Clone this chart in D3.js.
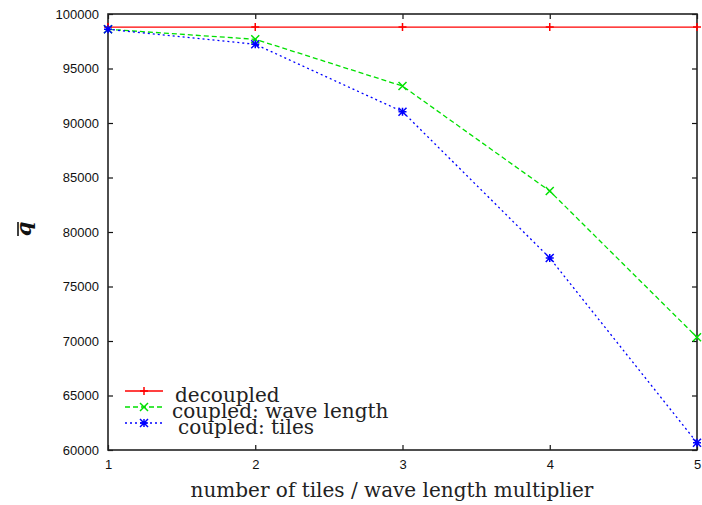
<!DOCTYPE html>
<html>
<head>
<meta charset="utf-8">
<script src="https://cdn.jsdelivr.net/npm/d3@7"></script>
<style>
  body { margin: 0; background: #fff; }
</style>
</head>
<body>
<script>
// data
var multipliers = [1, 2, 3, 4, 5];
var decoupled = [98800, 98800, 98800, 98800, 98800];
var coupledWave = [98600, 97680, 93390, 83760, 70340];
var coupledTiles = [98600, 97220, 91040, 77620, 60670];
var yTicks = [60000, 65000, 70000, 75000, 80000, 85000, 90000, 95000, 100000];
var seriesNames = ["decoupled", "coupled: wave length", "coupled: tiles"];

var w = 702, h = 505;
var plotL = 108, plotR = 697, plotT = 14, plotB = 450;

var svg = d3.select("body").append("svg")
    .attr("width", w)
    .attr("height", h);

var x = d3.scaleLinear().domain([1, 5]).range([plotL, plotR]);
var y = d3.scaleLinear().domain([60000, 100000]).range([plotB, plotT]);

//axes - gnuplot style, ticks inside and mirrored
var tickLen = 5;
var xAxisB = svg.append("g")
    .attr("transform", "translate(0," + plotB + ")")
    .call(d3.axisBottom(x).tickValues(multipliers).tickFormat(d3.format("d")).tickSizeInner(-tickLen).tickSizeOuter(0).tickPadding(10));
var xAxisT = svg.append("g")
    .attr("transform", "translate(0," + plotT + ")")
    .call(d3.axisTop(x).tickValues(multipliers).tickFormat("").tickSizeInner(-tickLen).tickSizeOuter(0));
var yAxisL = svg.append("g")
    .attr("transform", "translate(" + plotL + ",0)")
    .call(d3.axisLeft(y).tickValues(yTicks).tickFormat(d3.format("d")).tickSizeInner(-tickLen).tickSizeOuter(0).tickPadding(10));
var yAxisR = svg.append("g")
    .attr("transform", "translate(" + plotR + ",0)")
    .call(d3.axisRight(y).tickValues(yTicks).tickFormat("").tickSizeInner(-tickLen).tickSizeOuter(0));

svg.selectAll(".domain").remove();
svg.selectAll(".tick line").attr("stroke", "#111").attr("stroke-width", 1.2);
svg.selectAll(".tick text")
    .attr("font-family", "'Liberation Sans', Arial, sans-serif")
    .attr("font-size", "13px")
    .attr("fill", "#111");
xAxisB.selectAll(".tick text").attr("dy", "0.71em").attr("y", 10);
yAxisL.selectAll(".tick text").attr("x", -9);

// border box
svg.append("rect")
    .attr("x", plotL).attr("y", plotT)
    .attr("width", plotR - plotL).attr("height", plotB - plotT)
    .attr("fill", "none")
    .attr("stroke", "#222")
    .attr("stroke-width", 1.6);

var series = [
    {name: seriesNames[0], values: decoupled, color: "#ff0000", dash: null, mark: "plus"},
    {name: seriesNames[1], values: coupledWave, color: "#00e000", dash: "5,3", mark: "cross"},
    {name: seriesNames[2], values: coupledTiles, color: "#0000ff", dash: "2,3", mark: "star"}
];

var line = d3.line()
    .x(function(d, i) { return x(multipliers[i]); })
    .y(function(d) { return y(d); });

function markerPath(type, s) {
    var p = "";
    if (type === "plus" || type === "star") {
        p += "M" + (-s) + ",0L" + s + ",0M0," + (-s) + "L0," + s;
    }
    if (type === "cross" || type === "star") {
        p += "M" + (-s) + "," + (-s) + "L" + s + "," + s + "M" + (-s) + "," + s + "L" + s + "," + (-s);
    }
    return p;
}

series.forEach(function(s) {
    svg.append("path")
        .datum(s.values)
        .attr("d", line)
        .attr("fill", "none")
        .attr("stroke", s.color)
        .attr("stroke-width", 1.3)
        .attr("stroke-dasharray", s.dash);

    svg.selectAll(null)
        .data(s.values)
        .enter()
        .append("path")
        .attr("transform", function(d, i) { return "translate(" + x(multipliers[i]) + "," + y(d) + ")"; })
        .attr("d", markerPath(s.mark, 4))
        .attr("fill", "none")
        .attr("stroke", s.color)
        .attr("stroke-width", 1.5);
});

//legend
var legendRows = [
    {y: 391, textX: 175, textY: 402},
    {y: 407, textX: 172, textY: 418},
    {y: 423, textX: 178, textY: 434}
];
series.forEach(function(s, i) {
    var r = legendRows[i];
    svg.append("line")
        .attr("x1", 125).attr("x2", 163)
        .attr("y1", r.y).attr("y2", r.y)
        .attr("stroke", s.color)
        .attr("stroke-width", 1.3)
        .attr("stroke-dasharray", s.dash);
    svg.append("path")
        .attr("transform", "translate(144," + r.y + ")")
        .attr("d", markerPath(s.mark, 4))
        .attr("fill", "none")
        .attr("stroke", s.color)
        .attr("stroke-width", 1.5);
    svg.append("text")
        .attr("x", r.textX).attr("y", r.textY)
        .attr("font-family", "'DejaVu Serif', serif")
        .attr("font-size", "20px")
        .attr("fill", "#222")
        .text(s.name);
});

// axis titles
svg.append("text")
    .attr("x", 392)
    .attr("y", 497)
    .attr("text-anchor", "middle")
    .attr("font-family", "'DejaVu Serif', serif")
    .attr("font-size", "20px")
    .attr("fill", "#222")
    .text("number of tiles / wave length multiplier");

svg.append("text")
    .attr("transform", "translate(31,229) rotate(-90)")
    .attr("text-anchor", "middle")
    .attr("font-family", "'DejaVu Serif', serif")
    .attr("font-style", "italic")
    .attr("font-weight", "bold")
    .attr("font-size", "21px")
    .attr("fill", "#111")
    .text("q");
// overline bar of q
svg.append("line")
    .attr("x1", 18).attr("x2", 18)
    .attr("y1", 222).attr("y2", 236)
    .attr("stroke", "#111")
    .attr("stroke-width", 1.6);
</script>
</body>
</html>
